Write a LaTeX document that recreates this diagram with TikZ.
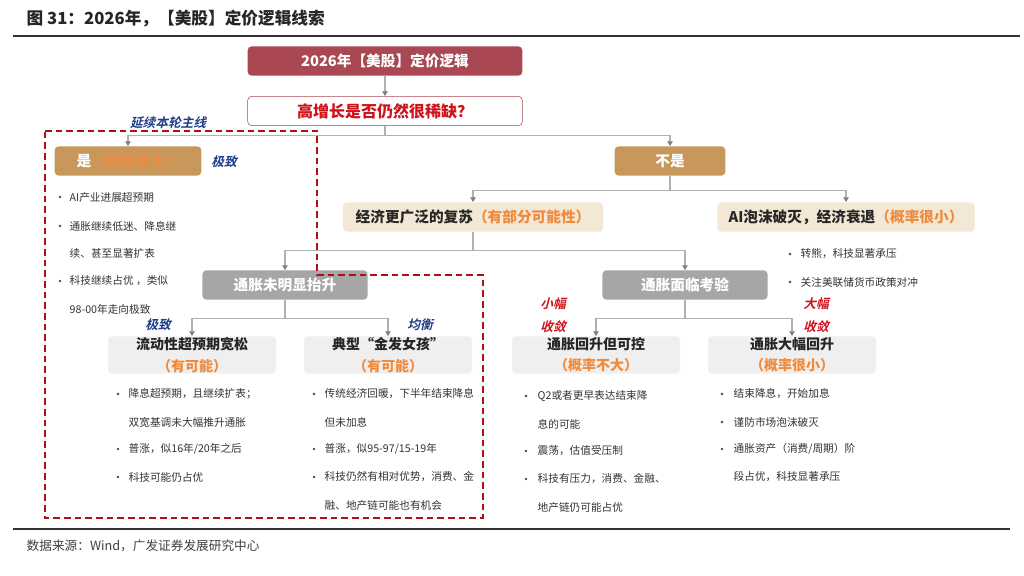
\documentclass[tikz,border=0pt]{standalone}
\usepackage{fontspec}
\setmainfont{Noto Sans CJK SC}
\newfontfamily\slnt{Noto Sans CJK SC}[FakeSlant=0.25,BoldFont={* Bold},BoldFeatures={FakeSlant=0.25}]
\usetikzlibrary{arrows.meta}
\definecolor{dred}{HTML}{A94752}
\definecolor{tan}{HTML}{C8975C}
\definecolor{beige}{HTML}{F3E7D5}
\definecolor{gbox}{HTML}{A6A6A6}
\definecolor{lgbox}{HTML}{EFEFEF}
\definecolor{orng}{HTML}{F08A3C}
\definecolor{navy}{HTML}{1F3C88}
\definecolor{rred}{HTML}{D0121B}
\definecolor{lnc}{HTML}{B0B0B0}
\tikzset{
 bx/.style={rounded corners=3pt,inner sep=0pt,font=\bfseries\fontsize{11}{13}\selectfont},
 ln/.style={draw=lnc,line width=0.8pt},
 arr/.style={ln,-{Triangle[width=4pt,length=3.5pt,fill=gray,color=gray]}},
 bl/.style={anchor=west,font=\fontsize{8}{10}\selectfont,text=black!80},
 lbl/.style={font=\slnt\bfseries\fontsize{9.5}{11}\selectfont},
}
\begin{document}
\begin{tikzpicture}[x=0.75pt,y=-0.75pt]
\useasboundingbox[fill=white] (0,0) rectangle (1024,575);
\node[anchor=west,font=\bfseries\fontsize{12.5}{14}\selectfont,text=black!85] (title) at (22,19) {图 31：2026年，【美股】定价逻辑线索};
\draw[line width=1pt,black!80] (13,36) -- (1020,36);
% top
\node[bx,fill=dred,text=white,minimum width=206pt,minimum height=22pt] (top) at (385,61) {2026年【美股】定价逻辑};
\node[bx,draw=dred,fill=white,text=rred,minimum width=206pt,minimum height=22pt,font=\bfseries\fontsize{12}{14}\selectfont] (q) at (385,111) {高增长是否仍然很稀缺？};
\draw[arr] (top) -- (q);
\node[bx,fill=tan,text=white,minimum width=110pt,minimum height=22pt] (yes) at (128,161) {是{\color{orng!85!tan}（概率很大）}};
\node[bx,fill=tan,text=white,minimum width=83pt,minimum height=22pt] (no) at (670,161) {不是};
\draw[arr] (q.south) -- ++(0,10) -| (yes.north);
\draw[arr] (q.south) -- ++(0,10) -| (no.north);
\node[bx,fill=beige,text=black!85,minimum width=195pt,minimum height=22pt] (eco) at (473,217) {经济更广泛的复苏{\color{orng}（有部分可能性）}};
\node[bx,fill=beige,text=black!85,minimum width=193pt,minimum height=22pt] (ai) at (846,217) {AI泡沫破灭，经济衰退{\color{orng}（概率很小）}};
\draw[arr] (no.south) -- ++(0,15) -| (eco.north);
\draw[arr] (no.south) -- ++(0,15) -| (ai.north);
\node[bx,fill=gbox,text=white,minimum width=124pt,minimum height=22pt] (inf1) at (285,285) {通胀未明显抬升};
\node[bx,fill=gbox,text=white,minimum width=124pt,minimum height=22pt] (inf2) at (685,285) {通胀面临考验};
\draw[arr] (eco.south) -- ++(0,19) -| (inf1.north);
\draw[arr] (eco.south) -- ++(0,19) -| (inf2.north);
\foreach \n/\x/\a/\b in {c1/192/流动性超预期宽松/（有可能）,c2/388/典型“金发女孩”/（有可能）,c3/596/通胀回升但可控/（概率不大）,c4/792/通胀大幅回升/（概率很小）}{
 \node[bx,fill=lgbox,text=black!85,minimum width=126pt,minimum height=28pt,align=center,font=\bfseries\fontsize{10.5}{16}\selectfont] (\n) at (\x,355) {\a\\{\color{orng}\b}};
}
\draw[arr] (inf1.south) -- ++(0,19) -| (c1.north);
\draw[arr] (inf1.south) -- ++(0,19) -| (c2.north);
\draw[arr] (inf2.south) -- ++(0,19) -| (c3.north);
\draw[arr] (inf2.south) -- ++(0,19) -| (c4.north);
% labels
\node[lbl,text=navy] (l0) at (168,123) {延续本轮主线};
\node[lbl,text=navy] (l1) at (224,162) {极致};
\node[lbl,text=navy] (l2) at (158,325) {极致};
\node[lbl,text=navy] (l3) at (420,325) {均衡};
\node[lbl,text=rred,align=center,font=\slnt\bfseries\fontsize{9.5}{17}\selectfont] (l4) at (553,315) {小幅\\收敛};
\node[lbl,text=rred,align=center,font=\slnt\bfseries\fontsize{9.5}{17}\selectfont] (l5) at (816,315) {大幅\\收敛};
% bullets
\newcommand\bt[4]{\node[bl] at (#1,#2) {#4};\fill[black!70] (#3,#2) circle (1.3);}
\newcommand\ct[3]{\node[bl] at (#1,#2) {#3};}
\bt{65}{197}{60}{AI产业进展超预期}
\bt{65}{226}{60}{通胀继续低迷、降息继}
\ct{65}{253}{续、甚至显著扩表}
\bt{65}{281}{60}{科技继续占优 ，类似}
\ct{65}{309}{98-00年走向极致}
\bt{796}{254}{790}{转熊，科技显著承压}
\bt{796}{282}{790}{关注美联储货币政策对冲}
\bt{124}{394}{118}{降息超预期，且继续扩表；}
\ct{124}{422}{双宽基调未大幅推升通胀}
\bt{124}{449}{118}{普涨，似16年/20年之后}
\bt{124}{477}{118}{科技可能仍占优}
\bt{320}{394}{314}{传统经济回暖，下半年结束降息}
\ct{320}{422}{但未加息}
\bt{320}{449}{314}{普涨，似95-97/15-19年}
\bt{320}{477}{314}{科技仍然有相对优势，消费、金}
\ct{320}{505}{融、地产链可能也有机会}
\bt{533}{396}{526}{Q2或者更早表达结束降}
\ct{533}{424}{息的可能}
\bt{533}{451}{526}{震荡，估值受压制}
\bt{533}{479}{526}{科技有压力，消费、金融、}
\ct{533}{507}{地产链仍可能占优}
\bt{729}{394}{722}{结束降息，开始加息}
\bt{729}{422}{722}{谨防市场泡沫破灭}
\bt{729}{449}{722}{通胀资产（消费/周期）阶}
\ct{729}{477}{段占优，科技显著承压}
% dashed region
\draw[draw=rred!85!black,line width=1.6pt,dash pattern=on 5pt off 3pt] (45,131) -- (317,131) -- (317,275) -- (483,275) -- (483,518) -- (45,518) -- cycle;
\draw[line width=1pt,black!80] (13,529) -- (1010,529);
\node[anchor=west,font=\fontsize{9.5}{11}\selectfont,text=black!75] (src) at (22,546) {数据来源：Wind，广发证券发展研究中心};
\end{tikzpicture}
\end{document}
